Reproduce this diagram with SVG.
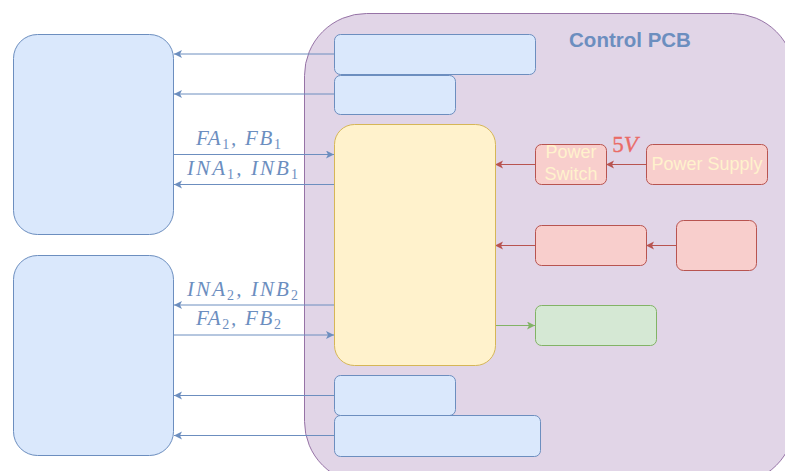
<svg xmlns="http://www.w3.org/2000/svg" width="785" height="471" viewBox="0 0 785 471">
  <style>
    .blue { fill: #dae8fc; stroke: #6c8ebf; stroke-width: 1; }
    .red { fill: #f8cecc; stroke: #b85450; stroke-width: 1; }
    .green { fill: #d5e8d4; stroke: #82b366; stroke-width: 1; }
    .yellow { fill: #fff2cc; stroke: #d6b656; stroke-width: 1; }
    .pcb { fill: #e1d5e7; stroke: #9673a6; stroke-width: 1; }
    .wb { fill: none; stroke: #6c8ebf; stroke-width: 1; marker-end: url(#ab); }
    .wr { fill: none; stroke: #b85450; stroke-width: 1; marker-end: url(#ar); }
    .wg { fill: none; stroke: #82b366; stroke-width: 1; marker-end: url(#ag); }
    .math { font-family: "Liberation Serif", "DejaVu Serif", serif; font-style: italic; font-size: 21px; fill: #6c8ebf; }
    .sub { font-style: normal; font-size: 14px; }
    .lbl { font-family: "Liberation Sans", Arial, sans-serif; font-size: 18px; fill: #fff2cc; text-anchor: middle; }
  </style>
  <defs>
    <marker id="ab" markerUnits="userSpaceOnUse" markerWidth="10" markerHeight="10" refX="8" refY="4" orient="auto">
      <path d="M0,0 L8,4 L0,8 L2,4 z" fill="#6c8ebf"/>
    </marker>
    <marker id="ar" markerUnits="userSpaceOnUse" markerWidth="10" markerHeight="10" refX="8" refY="4" orient="auto">
      <path d="M0,0 L8,4 L0,8 L2,4 z" fill="#b85450"/>
    </marker>
    <marker id="ag" markerUnits="userSpaceOnUse" markerWidth="10" markerHeight="10" refX="8" refY="4" orient="auto">
      <path d="M0,0 L8,4 L0,8 L2,4 z" fill="#82b366"/>
    </marker>
  </defs>

  <!-- control board container -->
  <g id="control-pcb">
    <rect class="pcb" x="304.5" y="13.5" width="490" height="470" rx="62"/>
    <text x="630" y="47" font-family="Liberation Sans, Arial, sans-serif" font-size="20.5" font-weight="bold" fill="#6c8ebf" text-anchor="middle">Control PCB</text>
  </g>

  <!-- connectors -->
  <g id="connectors">
    <path class="wb" d="M334,54 L174,54"/>
    <path class="wb" d="M334,94 L174,94"/>
    <path class="wb" d="M174,154.5 L334,154.5"/>
    <path class="wb" d="M334,184.5 L174,184.5"/>
    <path class="wb" d="M334,305 L174,305"/>
    <path class="wb" d="M174,335 L334,335"/>
    <path class="wb" d="M334,395.5 L174,395.5"/>
    <path class="wb" d="M334,435.5 L174,435.5"/>
    <path class="wr" d="M646,164.5 L606,164.5"/>
    <path class="wr" d="M535,164.5 L495,164.5"/>
    <path class="wr" d="M676,245.5 L646,245.5"/>
    <path class="wr" d="M535,245.5 L495,245.5"/>
    <path class="wg" d="M495,325.5 L535,325.5"/>

    <text class="math" x="196" y="145" textLength="85" lengthAdjust="spacing">FA<tspan class="sub" dy="4">1</tspan><tspan dy="-4">, FB</tspan><tspan class="sub" dy="4">1</tspan></text>
    <text class="math" x="187" y="175" textLength="111" lengthAdjust="spacing">INA<tspan class="sub" dy="4">1</tspan><tspan dy="-4">, INB</tspan><tspan class="sub" dy="4">1</tspan></text>
    <text class="math" x="187" y="296" textLength="111" lengthAdjust="spacing">INA<tspan class="sub" dy="4">2</tspan><tspan dy="-4">, INB</tspan><tspan class="sub" dy="4">2</tspan></text>
    <text class="math" x="196" y="325" textLength="85" lengthAdjust="spacing">FA<tspan class="sub" dy="4">2</tspan><tspan dy="-4">, FB</tspan><tspan class="sub" dy="4">2</tspan></text>
    <text x="625" y="152" font-family="Liberation Serif, DejaVu Serif, serif" font-size="23" fill="#ea6b66" stroke="#ea6b66" stroke-width="0.3" text-anchor="middle">5<tspan font-style="italic">V</tspan></text>
  </g>

  <!-- external modules -->
  <g id="module-1"><rect class="blue" x="13.5" y="34.5" width="160" height="200" rx="24"/></g>
  <g id="module-2"><rect class="blue" x="13.5" y="255.5" width="160" height="200" rx="24"/></g>

  <!-- on-board blocks -->
  <g id="port-1"><rect class="blue" x="334.5" y="34.5" width="201" height="40" rx="6"/></g>
  <g id="port-2"><rect class="blue" x="334.5" y="75.5" width="121" height="39" rx="6"/></g>
  <g id="port-3"><rect class="blue" x="334.5" y="375.5" width="121" height="40" rx="6"/></g>
  <g id="port-4"><rect class="blue" x="334.5" y="415.5" width="206" height="41" rx="6"/></g>

  <g id="controller"><rect class="yellow" x="334.5" y="124.5" width="161" height="241" rx="20"/></g>

  <g id="power-switch">
    <rect class="red" x="535.5" y="144.5" width="71" height="40" rx="6"/>
    <text class="lbl" x="571" y="158">Power</text>
    <text class="lbl" x="571" y="180">Switch</text>
  </g>
  <g id="power-supply">
    <rect class="red" x="646.5" y="144.5" width="121" height="40" rx="6"/>
    <text class="lbl" x="707" y="170">Power Supply</text>
  </g>
  <g id="red-block-1"><rect class="red" x="535.5" y="225.5" width="111" height="40" rx="6"/></g>
  <g id="red-block-2"><rect class="red" x="676.5" y="220.5" width="80" height="50" rx="7"/></g>
  <g id="green-block"><rect class="green" x="535.5" y="305.5" width="121" height="40" rx="6"/></g>
</svg>
